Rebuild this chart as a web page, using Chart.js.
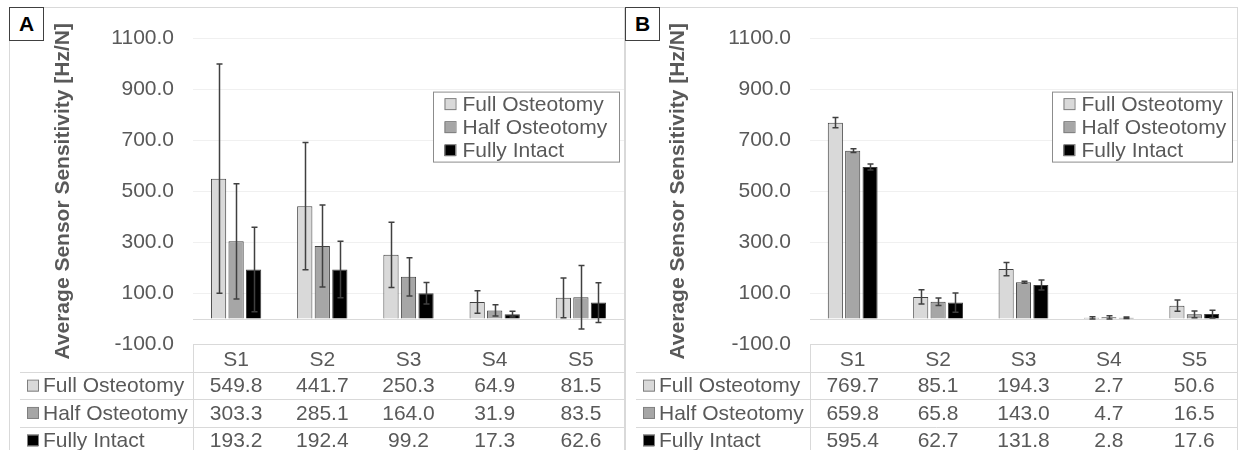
<!DOCTYPE html>
<html>
<head>
<meta charset="utf-8">
<script src="https://cdn.jsdelivr.net/npm/chart.js@4.4.1/dist/chart.umd.min.js"></script>
<style>
  body { margin: 0; background: #fff; }
  .frame { position: absolute; top: 7px; height: 450px; border: 1px solid #d9d9d9; border-bottom: none; box-sizing: border-box; }
  .tag { position: absolute; top: 7px; width: 35px; height: 34px; box-sizing: border-box; border: 1px solid #404040; background: #fff;
         font: bold 21px 'Liberation Sans', Arial, sans-serif; color: #000; text-align: center; line-height: 32px; }
  canvas { position: absolute; top: 7px; }
</style>
</head>
<body>
<div class="frame" style="left:9px;width:616px"></div>
<div class="frame" style="left:625px;width:613px"></div>
<canvas id="chartA" width="615" height="443" style="left:9px"></canvas>
<canvas id="chartB" width="612" height="443" style="left:625px"></canvas>
<div class="tag" style="left:9px">A</div>
<div class="tag" style="left:625px">B</div>
<script>
const categories = ['S1', 'S2', 'S3', 'S4', 'S5'];
const seriesNames = ['Full Osteotomy', 'Half Osteotomy', 'Fully Intact'];
const seriesColors = ['#d9d9d9', '#a6a6a6', '#000000'];

// panel A
const aFull = [549.8, 441.7, 250.3, 64.9, 81.5];
const aHalf = [303.3, 285.1, 164.0, 31.9, 83.5];
const aIntact = [193.2, 192.4, 99.2, 17.3, 62.6];
const aFullErr = [450, 250, 128, 44, 78];
const aHalfErr = [226, 161, 75, 22, 125];
const aIntactErr = [166, 111, 42, 11, 78];

// panel B
const bFull = [769.7, 85.1, 194.3, 2.7, 50.6];
const bHalf = [659.8, 65.8, 143.0, 4.7, 16.5];
const bIntact = [595.4, 62.7, 131.8, 2.8, 17.6];
const bFullErr = [20, 28, 26, 4, 22];
const bHalfErr = [7, 15, 4, 6, 13];
const bIntactErr = [12, 38, 20, 3, 15];

const yMin = -100;
const yMax = 1100;
const yStep = 200;
const yTitle = 'Average Sensor Sensitivity [Hz/N]';

const FONT = "'Liberation Sans', Arial, sans-serif";
const TEXT = '#595959';
const LINE = '#d9d9d9';
const GRID = '#f0f0f0';

Chart.defaults.font.family = FONT;
Chart.defaults.color = TEXT;

// zero line, error bars, floating legend and the data table under the axis
const extras = {
  id: 'extras',
  beforeDatasetsDraw(chart) {
    const { ctx, chartArea, scales: { y } } = chart;
    const y0 = Math.round(y.getPixelForValue(0)) + 0.5;
    ctx.save();
    ctx.strokeStyle = LINE;
    ctx.lineWidth = 1;
    ctx.beginPath();
    ctx.moveTo(chartArea.left, y0);
    ctx.lineTo(chartArea.right, y0);
    ctx.stroke();
    ctx.restore();
  },
  afterDatasetsDraw(chart) {
    const { ctx, scales: { y } } = chart;
    ctx.save();
    ctx.strokeStyle = '#404040';
    ctx.lineWidth = 1.5;
    chart.data.datasets.forEach((ds, i) => {
      chart.getDatasetMeta(i).data.forEach((bar, j) => {
        const v = ds.data[j], e = ds.errors[j];
        const x = Math.round(bar.x) + 0.5;
        const top = y.getPixelForValue(v + e);
        const bot = y.getPixelForValue(v - e);
        ctx.beginPath();
        ctx.moveTo(x, top); ctx.lineTo(x, bot);
        ctx.moveTo(x - 3, top); ctx.lineTo(x + 3, top);
        ctx.moveTo(x - 3, bot); ctx.lineTo(x + 3, bot);
        ctx.stroke();
      });
    });
    ctx.restore();
  },
  afterDraw(chart, args, opts) {
    const { ctx, chartArea, scales: { x } } = chart;
    const sets = chart.data.datasets;
    ctx.save();
    ctx.font = '21px ' + FONT;
    ctx.textBaseline = 'middle';

    // legend box
    const boxW = opts.legendWidth, boxH = 70;
    const bx = chartArea.right - 5 - boxW + 0.5, by = chartArea.top + 53 + 0.5;
    ctx.fillStyle = '#fff';
    ctx.fillRect(bx, by, boxW, boxH);
    ctx.strokeStyle = '#8c8c8c';
    ctx.lineWidth = 1;
    ctx.strokeRect(bx, by, boxW, boxH);
    sets.forEach((ds, i) => {
      const cy = by + 12 + i * 23;
      ctx.fillStyle = ds.backgroundColor;
      ctx.fillRect(bx + 11, cy - 5, 11, 11);
      ctx.strokeStyle = '#7f7f7f';
      ctx.strokeRect(bx + 11.5, cy - 5.5, 11, 11);
      ctx.fillStyle = TEXT;
      ctx.textAlign = 'left';
      ctx.fillText(ds.label, bx + 29, cy + 1);
    });

    // data table
    const left = opts.tableLeft;
    const rowTop = chartArea.bottom + 28;
    const rowH = 27.3;
    ctx.strokeStyle = LINE;
    ctx.beginPath();
    for (let k = 0; k <= sets.length; k++) {
      const ly = Math.round(rowTop + k * rowH) + 0.5;
      ctx.moveTo(left, ly);
      ctx.lineTo(chart.width, ly);
    }
    const vx = Math.round(chartArea.left) + 0.5;
    ctx.moveTo(vx, chartArea.bottom);
    ctx.lineTo(vx, chart.height);
    ctx.stroke();

    sets.forEach((ds, r) => {
      const cy = rowTop + r * rowH + rowH / 2;
      ctx.fillStyle = ds.backgroundColor;
      ctx.fillRect(left + 7, cy - 5, 11, 11);
      ctx.strokeStyle = '#7f7f7f';
      ctx.strokeRect(left + 7.5, cy - 5.5, 11, 11);
      ctx.fillStyle = TEXT;
      ctx.textAlign = 'left';
      ctx.fillText(ds.label, left + 23, cy + 1);
      ctx.textAlign = 'center';
      ds.data.forEach((v, j) => {
        ctx.fillText(v.toFixed(1), x.getPixelForValue(j), cy + 1);
      });
    });
    ctx.restore();
  }
};

function makePanel(id, values, errors, axisWidth, titlePad, legendWidth) {
  new Chart(document.getElementById(id), {
    type: 'bar',
    data: {
      labels: categories,
      datasets: values.map((vals, i) => ({
        label: seriesNames[i],
        data: vals,
        errors: errors[i],
        backgroundColor: seriesColors[i],
        borderColor: '#404040',
        borderWidth: 1,
        categoryPercentage: 0.61,
        barPercentage: 0.87
      }))
    },
    options: {
      responsive: false,
      animation: false,
      layout: { padding: { top: 13, bottom: 78, left: 0, right: 0 } },
      scales: {
        x: {
          grid: { display: false },
          border: { display: false },
          ticks: { color: TEXT, font: { size: 21 }, padding: -4 },
          afterFit: (s) => { s.height = 28; }
        },
        y: {
          min: yMin,
          max: yMax,
          border: { display: false },
          grid: {
            drawTicks: false,
            color: (c) => (c.tick && c.tick.value === yMin ? LINE : GRID)
          },
          ticks: {
            stepSize: yStep,
            padding: 19,
            color: TEXT,
            font: { size: 21 },
            callback: (v) => Number(v).toFixed(1)
          },
          title: {
            display: true,
            text: yTitle,
            color: TEXT,
            font: { size: 21, weight: 'bold' },
            padding: { top: titlePad, bottom: 0 }
          },
          afterFit: (s) => { s.width = axisWidth; }
        }
      },
      plugins: {
        legend: { display: false },
        tooltip: { enabled: false },
        extras: { tableLeft: 11, legendWidth: legendWidth }
      }
    },
    plugins: [extras]
  });
}

makePanel('chartA', [aFull, aHalf, aIntact], [aFullErr, aHalfErr, aIntactErr], 184, 42, 186);
makePanel('chartB', [bFull, bHalf, bIntact], [bFullErr, bHalfErr, bIntactErr], 185, 41, 180);
</script>
</body>
</html>
